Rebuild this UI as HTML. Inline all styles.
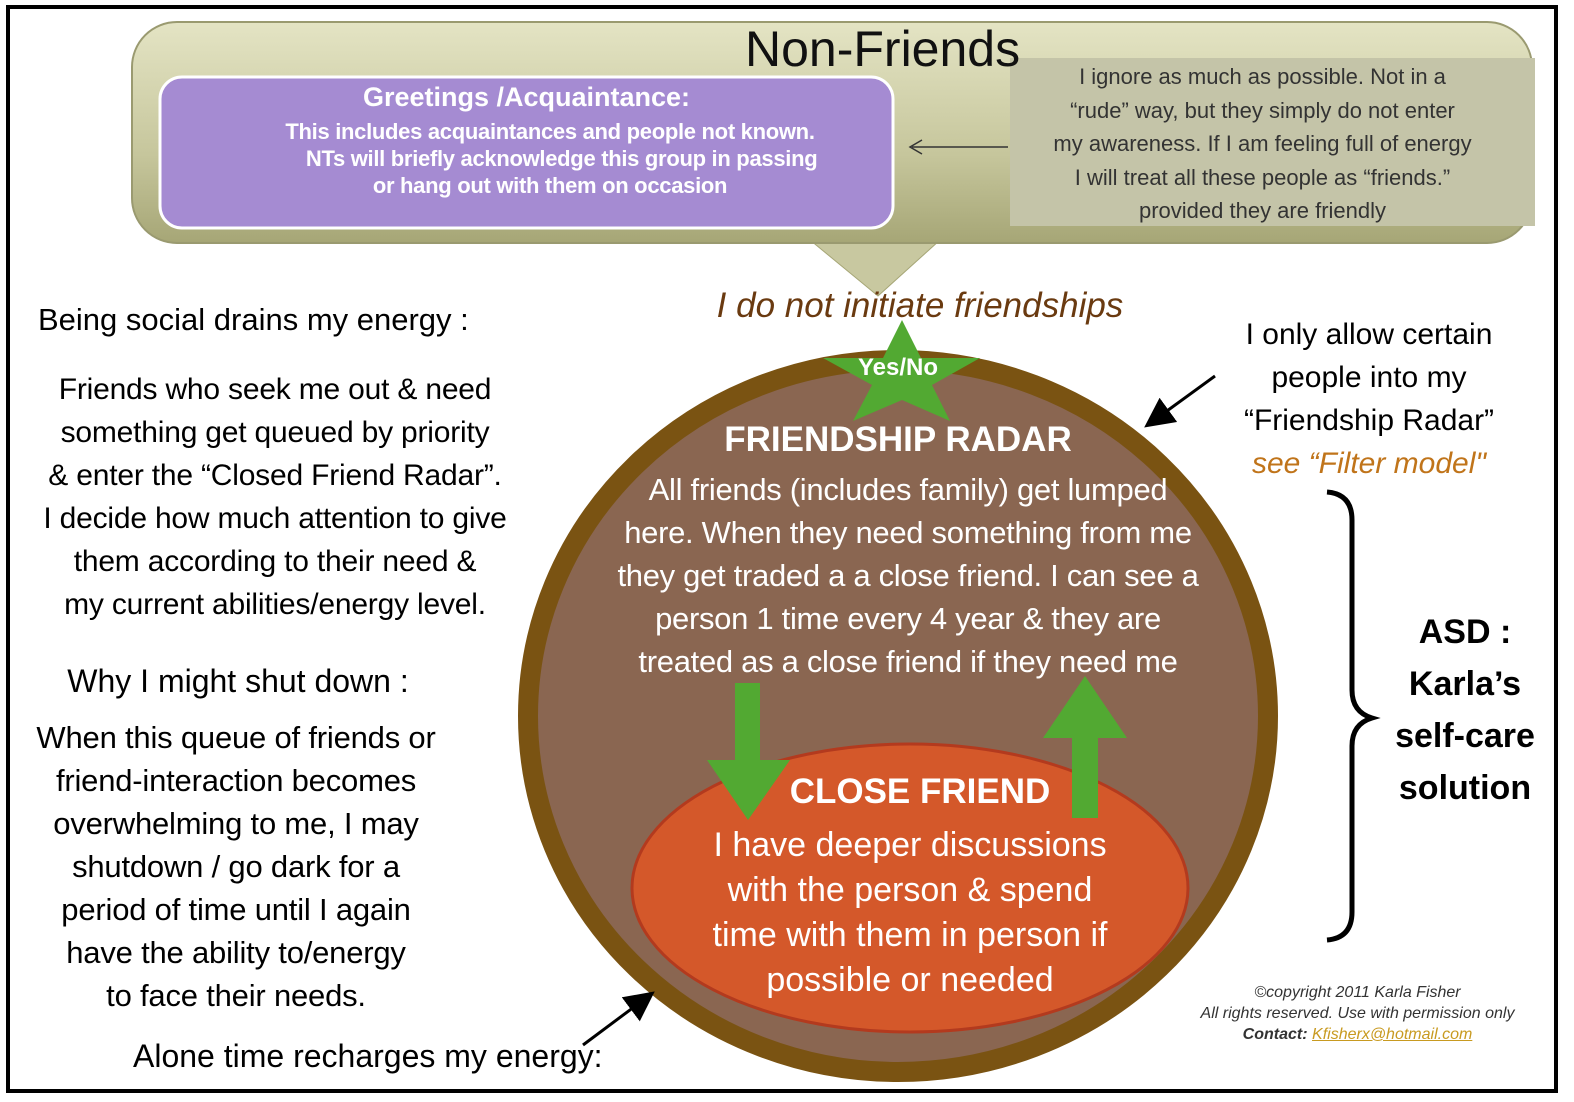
<!DOCTYPE html>
<html><head><meta charset="utf-8"><style>
body{margin:0;width:1574px;height:1102px;background:#fff;position:relative;overflow:hidden;font-family:"Liberation Sans",sans-serif}
.t{position:absolute;text-align:center;white-space:nowrap}
</style></head><body>
<svg width="1574" height="1102" style="position:absolute;left:0;top:0">
<defs>
<linearGradient id="ol" x1="0" y1="0" x2="0" y2="1"><stop offset="0" stop-color="#e4e4c4"/><stop offset="0.6" stop-color="#c6c69c"/><stop offset="1" stop-color="#a6a676"/></linearGradient>
<marker id="ah" markerWidth="10" markerHeight="10" refX="8" refY="5" orient="auto"><path d="M0,0 L10,5 L0,10 z" fill="#000"/></marker>
</defs>
<rect x="8" y="7" width="1548" height="1084" fill="none" stroke="#000" stroke-width="4"/>
<path d="M810,240 L878,296 L940,240 z" fill="#c8c8a0" stroke="#a6a676"/>
<rect x="132" y="22" width="1400" height="221" rx="45" fill="url(#ol)" stroke="#9a9a70" stroke-width="2"/>
<rect x="1010" y="58" width="525" height="168" fill="#c4c4a8"/>
<rect x="160" y="77" width="733" height="151" rx="22" fill="#a58bd2" stroke="#fff" stroke-width="3"/>
<line x1="1008" y1="147" x2="912" y2="147" stroke="#333" stroke-width="1.5"/>
<path d="M922,140 L910,147 L922,154" fill="none" stroke="#333" stroke-width="1.5"/>
<ellipse cx="898" cy="716" rx="370" ry="356" fill="#8a6651" stroke="#7a5312" stroke-width="20"/>
<ellipse cx="910" cy="888" rx="278" ry="144" fill="#d4582a" stroke="#b33a1e" stroke-width="3"/>
<polygon points="902,320 921,358 980,358 932,385 950,421 902,400 853,421 872,385 823,358 883,358" fill="#52a932"/>
<polygon points="735,683 760,683 760,760 790,760 748,820 707,760 735,760" fill="#52a932"/>
<polygon points="1072,818 1098,818 1098,738 1127,738 1085,676 1043,738 1072,738" fill="#52a932"/>
<line x1="1215" y1="376" x2="1149" y2="424" stroke="#000" stroke-width="3" marker-end="url(#ah)"/>
<line x1="583" y1="1045" x2="650" y2="995" stroke="#000" stroke-width="3" marker-end="url(#ah)"/>
<path d="M1327,492 Q1352,494 1352,520 L1352,690 Q1352,712 1372,718 Q1352,724 1352,746 L1352,912 Q1352,938 1327,940" fill="none" stroke="#000" stroke-width="5"/>
</svg>
<div class="t" style="left:745px;top:20px;font-size:50px;color:#111">Non-Friends</div>
<div class="t" style="left:160px;width:733px;top:82px;font-size:27px;font-weight:bold;color:#fff">Greetings /Acquaintance:</div>
<div class="t" style="left:160px;width:780px;top:118px;font-size:22px;line-height:27px;color:#fff;font-weight:bold;letter-spacing:-0.3px">This includes acquaintances and people not known.<br>&nbsp;&nbsp;&nbsp;&nbsp;NTs will briefly acknowledge this group in passing<br>or hang out with them on occasion</div>
<div class="t" style="left:1010px;width:505px;top:60px;font-size:22px;line-height:33.5px;color:#333">I ignore as much as possible. Not in a<br>“rude” way, but they simply do not enter<br>my awareness. If I am feeling full of energy<br>I will treat all these people as “friends.”<br>provided they are friendly</div>
<div class="t" style="left:650px;width:540px;top:286px;font-size:35px;font-style:italic;color:#6a3a10">I do not initiate friendships</div>
<div class="t" style="left:848px;width:100px;top:354px;font-size:24px;font-weight:bold;color:#fff">Yes/No</div>
<div class="t" style="left:648px;width:500px;top:420px;font-size:35px;font-weight:bold;color:#fff">FRIENDSHIP RADAR</div>
<div class="t" style="left:598px;width:620px;top:468px;font-size:31px;line-height:43px;color:#fff;letter-spacing:-0.3px">All friends (includes family) get lumped<br>here. When they need something from me<br>they get traded a a close friend. I can see a<br>person 1 time every 4 year &amp; they are<br>treated as a close friend if they need me</div>
<div class="t" style="left:720px;width:400px;top:772px;font-size:35px;font-weight:bold;color:#fff">CLOSE FRIEND</div>
<div class="t" style="left:610px;width:600px;top:823px;font-size:34px;line-height:45px;color:#fff">I have deeper discussions<br>with the person &amp; spend<br>time with them in person if<br>possible or needed</div>
<div class="t" style="left:38px;top:302px;font-size:31px;color:#000;text-align:left">Being social drains my energy :</div>
<div class="t" style="left:0px;width:550px;top:368px;font-size:30px;line-height:43px;color:#000;letter-spacing:-0.2px">Friends who seek me out &amp; need<br>something get queued by priority<br>&amp; enter the “Closed Friend Radar”.<br>I decide how much attention to give<br>them according to their need &amp;<br>my current abilities/energy level.</div>
<div class="t" style="left:0px;width:476px;top:663px;font-size:32px;color:#000">Why I might shut down :</div>
<div class="t" style="left:0px;width:472px;top:716px;font-size:31px;line-height:43px;color:#000;letter-spacing:-0.2px">When this queue of friends or<br>friend-interaction becomes<br>overwhelming to me, I may<br>shutdown / go dark for a<br>period of time until I again<br>have the ability to/energy<br>to face their needs.</div>
<div class="t" style="left:133px;top:1038px;font-size:32px;color:#000">Alone time recharges my energy:</div>
<div class="t" style="left:1214px;width:310px;top:313px;font-size:30px;line-height:43px;color:#000">I only allow certain<br>people into my<br>“Friendship Radar”<br><span style="color:#c0741a;font-style:italic">see “Filter model"</span></div>
<div class="t" style="left:1375px;width:180px;top:606px;font-size:34px;line-height:52px;font-weight:bold;color:#000">ASD :<br>Karla’s<br>self-care<br>solution</div>
<div class="t" style="left:1165px;width:385px;top:982px;font-size:16px;line-height:21px;font-style:italic;color:#333">©copyright 2011 Karla Fisher<br>All rights reserved. Use with permission only<br><b>Contact:</b> <span style="color:#c89a20;text-decoration:underline">Kfisherx@hotmail.com</span></div>
</body></html>
